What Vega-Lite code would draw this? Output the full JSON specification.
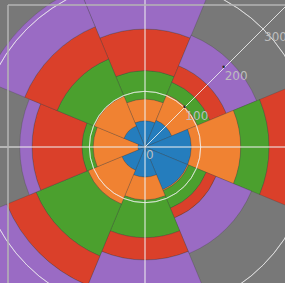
{
  "$schema": "https://vega.github.io/schema/vega-lite/v6.json",
  "width": 274,
  "height": 284,
  "autosize": "none",
  "padding": {"left": 8, "top": 5, "right": 3, "bottom": -6},
  "background": "#787878",
  "view": {"stroke": null, "fill": null},
  "config": {"font": "DejaVu Sans"},
  "datasets": {
    "bars": [
      {"dir": "N", "a0": -22.5, "a1": 22.5, "series": "s1", "k": 1, "value": 47},
      {"dir": "N", "a0": -22.5, "a1": 22.5, "series": "s2", "k": 2, "value": 39},
      {"dir": "N", "a0": -22.5, "a1": 22.5, "series": "s3", "k": 3, "value": 51},
      {"dir": "N", "a0": -22.5, "a1": 22.5, "series": "s4", "k": 4, "value": 75},
      {"dir": "N", "a0": -22.5, "a1": 22.5, "series": "s5", "k": 5, "value": 88},
      {"dir": "NE", "a0": 22.5, "a1": 67.5, "series": "s1", "k": 1, "value": 52},
      {"dir": "NE", "a0": 22.5, "a1": 67.5, "series": "s2", "k": 2, "value": 50},
      {"dir": "NE", "a0": 22.5, "a1": 67.5, "series": "s3", "k": 3, "value": 24},
      {"dir": "NE", "a0": 22.5, "a1": 67.5, "series": "s4", "k": 4, "value": 32},
      {"dir": "NE", "a0": 22.5, "a1": 67.5, "series": "s5", "k": 5, "value": 59},
      {"dir": "E", "a0": 67.5, "a1": 112.5, "series": "s1", "k": 1, "value": 83},
      {"dir": "E", "a0": 67.5, "a1": 112.5, "series": "s2", "k": 2, "value": 89},
      {"dir": "E", "a0": 67.5, "a1": 112.5, "series": "s3", "k": 3, "value": 51},
      {"dir": "E", "a0": 67.5, "a1": 112.5, "series": "s4", "k": 4, "value": 67},
      {"dir": "E", "a0": 67.5, "a1": 112.5, "series": "s5", "k": 5, "value": 40},
      {"dir": "SE", "a0": 112.5, "a1": 157.5, "series": "s1", "k": 1, "value": 83},
      {"dir": "SE", "a0": 112.5, "a1": 157.5, "series": "s2", "k": 2, "value": 2},
      {"dir": "SE", "a0": 112.5, "a1": 157.5, "series": "s3", "k": 3, "value": 34},
      {"dir": "SE", "a0": 112.5, "a1": 157.5, "series": "s4", "k": 4, "value": 19},
      {"dir": "SE", "a0": 112.5, "a1": 157.5, "series": "s5", "k": 5, "value": 69},
      {"dir": "S", "a0": 157.5, "a1": 202.5, "series": "s1", "k": 1, "value": 54},
      {"dir": "S", "a0": 157.5, "a1": 202.5, "series": "s2", "k": 2, "value": 41},
      {"dir": "S", "a0": 157.5, "a1": 202.5, "series": "s3", "k": 3, "value": 68},
      {"dir": "S", "a0": 157.5, "a1": 202.5, "series": "s4", "k": 4, "value": 40},
      {"dir": "S", "a0": 157.5, "a1": 202.5, "series": "s5", "k": 5, "value": 97},
      {"dir": "SW", "a0": 202.5, "a1": 247.5, "series": "s1", "k": 1, "value": 45},
      {"dir": "SW", "a0": 202.5, "a1": 247.5, "series": "s2", "k": 2, "value": 66},
      {"dir": "SW", "a0": 202.5, "a1": 247.5, "series": "s3", "k": 3, "value": 101},
      {"dir": "SW", "a0": 202.5, "a1": 247.5, "series": "s4", "k": 4, "value": 57},
      {"dir": "SW", "a0": 202.5, "a1": 247.5, "series": "s5", "k": 5, "value": 91},
      {"dir": "W", "a0": 247.5, "a1": 292.5, "series": "s1", "k": 1, "value": 13},
      {"dir": "W", "a0": 247.5, "a1": 292.5, "series": "s2", "k": 2, "value": 80},
      {"dir": "W", "a0": 247.5, "a1": 292.5, "series": "s3", "k": 3, "value": 20},
      {"dir": "W", "a0": 247.5, "a1": 292.5, "series": "s4", "k": 4, "value": 90},
      {"dir": "W", "a0": 247.5, "a1": 292.5, "series": "s5", "k": 5, "value": 22},
      {"dir": "NW", "a0": 292.5, "a1": 337.5, "series": "s1", "k": 1, "value": 41},
      {"dir": "NW", "a0": 292.5, "a1": 337.5, "series": "s2", "k": 2, "value": 58},
      {"dir": "NW", "a0": 292.5, "a1": 337.5, "series": "s3", "k": 3, "value": 72},
      {"dir": "NW", "a0": 292.5, "a1": 337.5, "series": "s4", "k": 4, "value": 63},
      {"dir": "NW", "a0": 292.5, "a1": 337.5, "series": "s5", "k": 5, "value": 75}
    ],
    "rings": [{"v": 100}, {"v": 200}, {"v": 300}],
    "spokes": [{"a": 0}, {"a": 90}, {"a": 180}, {"a": 270}, {"a": 45}],
    "labels": [{"v": 0, "t": "0"}, {"v": 100, "t": "100"}, {"v": 200, "t": "200"}, {"v": 300, "t": "300"}],
    "ticks": [{"v": 100}, {"v": 200}]
  },
  "layer": [
    {
      "data": {"name": "bars"},
      "transform": [
        {"stack": "value", "groupby": ["dir"], "sort": [{"field": "k", "order": "ascending"}], "as": ["r0", "r1"]}
      ],
      "mark": {"type": "arc", "stroke": "#333333", "strokeWidth": 0.6, "strokeOpacity": 0.4},
      "encoding": {
        "theta": {"field": "a0", "type": "quantitative", "stack": null, "scale": {"domain": [0, 360], "range": [0, 6.283185307179586]}},
        "theta2": {"field": "a1"},
        "radius": {"field": "r1", "type": "quantitative", "scale": {"type": "linear", "domain": [0, 300], "range": [0, 167], "zero": true}},
        "radius2": {"field": "r0"},
        "color": {"field": "series", "type": "nominal", "legend": null,
          "scale": {"domain": ["s1", "s2", "s3", "s4", "s5"], "range": ["#257dbd", "#f08232", "#4ba02e", "#da402a", "#9a6bc4"]}}
      }
    },
    {
      "data": {"name": "rings"},
      "mark": {"type": "arc", "fill": "transparent", "fillOpacity": 0, "stroke": "#f2f2f2", "strokeOpacity": 0.6, "strokeWidth": 1},
      "encoding": {
        "theta": {"datum": 0, "type": "quantitative"},
        "theta2": {"datum": 360},
        "radius": {"field": "v", "type": "quantitative"}
      }
    },
    {
      "data": {"name": "spokes"},
      "mark": {"type": "arc", "fill": "transparent", "fillOpacity": 0, "stroke": "#f2f2f2", "strokeOpacity": 0.6, "strokeWidth": 1},
      "encoding": {
        "theta": {"field": "a", "type": "quantitative"},
        "theta2": {"field": "a"},
        "radius": {"datum": 450, "type": "quantitative"},
        "radius2": {"datum": 0}
      }
    },
    {
      "data": {"name": "ticks"},
      "mark": {"type": "text", "text": "•", "fontSize": 8, "fill": "#2a2a2a", "align": "center", "baseline": "middle"},
      "encoding": {
        "theta": {"datum": 45, "type": "quantitative"},
        "radius": {"field": "v", "type": "quantitative"}
      }
    },
    {
      "data": {"name": "labels"},
      "mark": {"type": "text", "fontSize": 12, "fill": "#bdbdbd", "align": "left", "baseline": "top", "dx": 1, "dy": 3},
      "encoding": {
        "theta": {"datum": 45, "type": "quantitative"},
        "radius": {"field": "v", "type": "quantitative"},
        "text": {"field": "t", "type": "nominal"}
      }
    },
    {
      "data": {"values": [{}]},
      "mark": {"type": "rule", "stroke": "#b4b4b4", "strokeWidth": 1.5},
      "encoding": {
        "x": {"datum": 0, "type": "quantitative", "scale": {"domain": [0, 1]}, "axis": null}
      }
    },
    {
      "data": {"values": [{}]},
      "mark": {"type": "rule", "stroke": "#b4b4b4", "strokeWidth": 1.5},
      "encoding": {
        "y": {"datum": 1, "type": "quantitative", "scale": {"domain": [0, 1]}, "axis": null},
        "x": {"datum": 0, "type": "quantitative", "scale": {"domain": [0, 1]}, "axis": null},
        "x2": {"datum": 1.05}
      }
    }
  ]
}
